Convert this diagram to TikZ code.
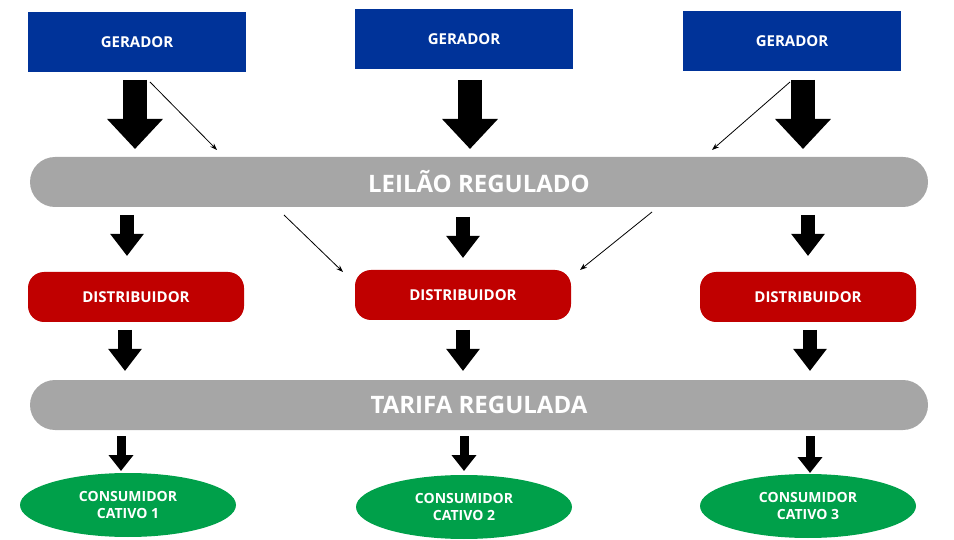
\documentclass[tikz,border=0pt]{standalone}
\usepackage{fontspec}
\setmainfont{Open Sans}
\usetikzlibrary{arrows.meta,shapes.geometric}
\definecolor{gblue}{HTML}{003399}
\definecolor{dred}{HTML}{C00000}
\definecolor{bgray}{HTML}{A6A6A6}
\definecolor{cgreen}{HTML}{00A04A}
\begin{document}
\begin{tikzpicture}[x=1pt,y=-1pt,
 ger/.style={fill=gblue,minimum width=218pt,minimum height=60pt,text=white,font=\fontsize{15}{18}\selectfont\bfseries,inner sep=0},
 bar/.style={fill=bgray,rounded corners=25pt,minimum width=898pt,minimum height=50pt,text=white,font=\fontsize{24}{28}\selectfont\bfseries,inner sep=0},
 dist/.style={fill=dred,rounded corners=16pt,minimum width=216pt,minimum height=50pt,text=white,font=\fontsize{15}{18}\selectfont\bfseries,inner sep=0},
 cons/.style={ellipse,fill=cgreen,minimum width=216pt,minimum height=64pt,text=white,font=\fontsize{14}{17}\selectfont\bfseries,align=center,inner sep=0},
 big/.style={line width=24pt,-{Triangle[length=30pt,width=54pt]}},
 mid/.style={line width=14pt,-{Triangle[length=22pt,width=32pt]}},
 sml/.style={line width=9pt,-{Triangle[length=16pt,width=24pt]}},
 thin/.style={line width=0.8pt,-{Stealth[length=7pt,width=5pt]}}]
\useasboundingbox (0,0) rectangle (954,540);
\node[ger] (g1) at (137,42) {GERADOR};
\node[ger] (g2) at (464,39) {GERADOR};
\node[ger] (g3) at (792,41) {GERADOR};
\node[bar] (lr) at (479,182) {LEILÃO REGULADO};
\node[dist] (d1) at (136,297) {DISTRIBUIDOR};
\node[dist] (d2) at (463,295) {DISTRIBUIDOR};
\node[dist] (d3) at (808,297) {DISTRIBUIDOR};
\node[bar] (tr) at (479,405) {TARIFA REGULADA};
\node[cons] (c1) at (128,505) {CONSUMIDOR\\CATIVO 1};
\node[cons] (c2) at (464,507) {CONSUMIDOR\\CATIVO 2};
\node[cons] (c3) at (808,506) {CONSUMIDOR\\CATIVO 3};
\coordinate (a1) at (135,80); \coordinate (a2) at (470,80); \coordinate (a3) at (803,80);
\draw[big] (a1) -- (a1 |- 0,149);
\draw[big] (a2) -- (a2 |- 0,149);
\draw[big] (a3) -- (a3 |- 0,149);
\coordinate (t1) at (150,82); \coordinate (t1e) at (217,150);
\coordinate (t2) at (790,82); \coordinate (t2e) at (712,150);
\draw[thin] (t1) -- (t1e);
\draw[thin] (t2) -- (t2e);
\coordinate (b1) at (127,215); \coordinate (b2) at (463,217); \coordinate (b3) at (808,215);
\draw[mid] (b1) -- (b1 |- 0,256);
\draw[mid] (b2) -- (b2 |- 0,258);
\draw[mid] (b3) -- (b3 |- 0,256);
\coordinate (t3) at (284,215); \coordinate (t3e) at (343,272);
\coordinate (t4) at (652,212); \coordinate (t4e) at (580,270);
\draw[thin] (t3) -- (t3e);
\draw[thin] (t4) -- (t4e);
\coordinate (e1) at (125,330); \coordinate (e2) at (463,330); \coordinate (e3) at (810,330);
\draw[mid] (e1) -- (e1 |- 0,371);
\draw[mid] (e2) -- (e2 |- 0,371);
\draw[mid] (e3) -- (e3 |- 0,371);
\coordinate (f1) at (121,436); \coordinate (f2) at (464,436); \coordinate (f3) at (810,436);
\draw[sml] (f1) -- (f1 |- 0,471);
\draw[sml] (f2) -- (f2 |- 0,471);
\draw[sml] (f3) -- (f3 |- 0,473);
\end{tikzpicture}
\end{document}
